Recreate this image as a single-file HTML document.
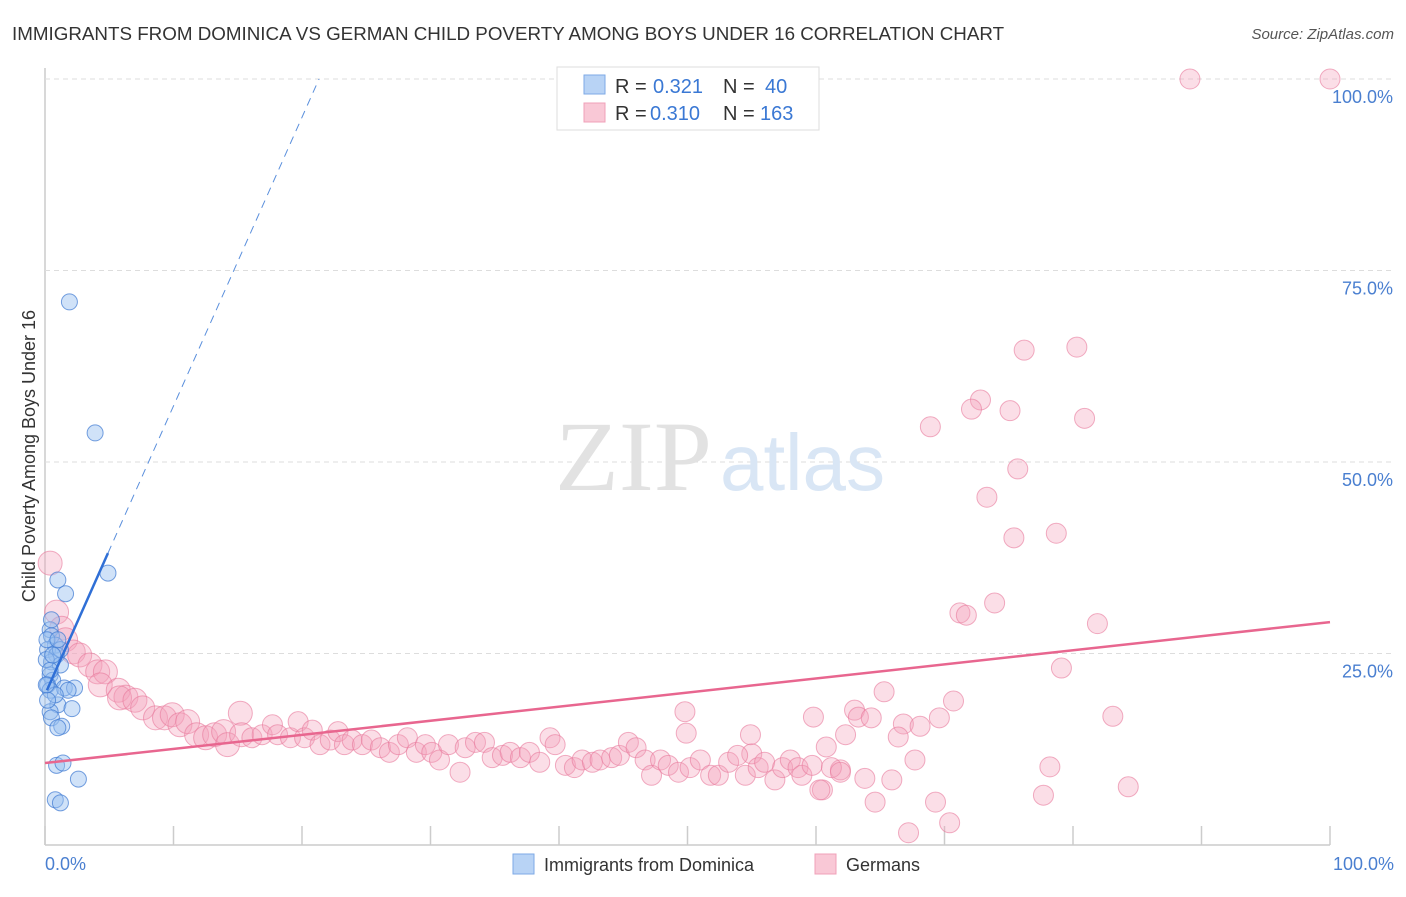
<!DOCTYPE html>
<html><head><meta charset="utf-8"><style>
body{margin:0;background:#fff;font-family:"Liberation Sans",sans-serif;}
svg text{font-family:"Liberation Sans",sans-serif;}
</style></head><body>
<svg id="c" width="1406" height="892" viewBox="0 0 1406 892">
<text x="12" y="40" font-size="18.8" fill="#333">IMMIGRANTS FROM DOMINICA VS GERMAN CHILD POVERTY AMONG BOYS UNDER 16 CORRELATION CHART</text>
<text x="1394" y="39" font-size="15" fill="#555" font-style="italic" text-anchor="end">Source: ZipAtlas.com</text>
<g id="grid"></g>
<text x="555" y="490" font-size="100" fill="#e2e2e2" textLength="157" lengthAdjust="spacingAndGlyphs" style="font-family:'Liberation Serif',serif">ZIP</text>
<text x="720" y="490" font-size="80" fill="#d9e6f5" textLength="165" lengthAdjust="spacingAndGlyphs">atlas</text>
<g id="pts"></g>
<g id="lines"></g>
<text x="35" y="456" font-size="18" fill="#333" text-anchor="middle" transform="rotate(-90 35 456)">Child Poverty Among Boys Under 16</text>
<text x="45" y="870" font-size="18" fill="#4a7fd0">0.0%</text>
<text x="1394" y="870" font-size="18" fill="#4a7fd0" text-anchor="end">100.0%</text>
<g>
<rect x="557" y="67" width="262" height="63" fill="#fff" stroke="#ddd"/>
<rect x="584" y="75" width="21" height="19" fill="#b8d3f5" stroke="#7eaae6"/>
<rect x="584" y="103" width="21" height="19" fill="#f9c8d6" stroke="#f0a0b8"/>
<text x="615" y="93" font-size="20" fill="#333">R =</text>
<text x="653" y="93" font-size="20" fill="#3a78d4">0.321</text>
<text x="723" y="93" font-size="20" fill="#333">N =</text>
<text x="765" y="93" font-size="20" fill="#3a78d4">40</text>
<text x="615" y="120" font-size="20" fill="#333">R =</text>
<text x="650" y="120" font-size="20" fill="#3a78d4">0.310</text>
<text x="723" y="120" font-size="20" fill="#333">N =</text>
<text x="760" y="120" font-size="20" fill="#3a78d4">163</text>
</g>
<rect x="513" y="854" width="21" height="20" fill="#b8d3f5" stroke="#7eaae6"/>
<text x="544" y="871" font-size="18" fill="#333">Immigrants from Dominica</text>
<rect x="815" y="854" width="21" height="20" fill="#f9c8d6" stroke="#f0a0b8"/>
<text x="846" y="871" font-size="18" fill="#333">Germans</text>
</svg>
<script>
const yTicks=[25,50,75,100];
const yTickLabels=["25.0%","50.0%","75.0%","100.0%"];
const xTicks=[0,10,20,30,40,50,60,70,80,90,100];
const blueX=[1.9,3.9,4.9,1.0,1.6,0.4,0.5,0.8,0.2,0.9,0.5,1.2,0.4,0.6,0.2,1.5,2.3,1.8,1.0,2.1,0.4,0.5,1.3,1.0,0.9,1.4,2.6,0.8,1.2,0.15,0.4,0.8,0.2,0.5,1.2,0.1,1.0,0.4,0.1,0.6];
const blueY=[70.9,53.8,35.5,34.6,32.8,28.1,27.3,26.1,25.5,24.8,23.9,23.5,22.2,21.5,20.9,20.5,20.5,20.2,18.3,17.8,17.4,16.6,15.5,15.3,10.4,10.7,8.6,5.9,5.5,26.8,20.2,19.6,18.9,29.4,25.5,24.2,26.8,22.8,20.9,24.8];
const pinkX=[89.1,100,76.2,80.3,72.8,72.1,75.1,80.9,68.9,75.7,73.3,75.4,78.7,71.2,71.7,73.9,81.9,79.1,65.3,70.7,69.6,63.0,63.3,64.3,59.8,49.8,66.8,68.1,83.1,66.4,60.8,62.3,67.7,78.2,77.7,84.3,64.6,69.3,67.2,70.4,65.9,63.8,60.5,61.9,49.9,54.9,55.0,
0.4,0.9,1.3,1.6,2.2,2.7,3.5,4.1,4.7,4.3,5.7,6.3,5.8,7.0,7.6,8.6,9.3,9.9,10.5,11.1,11.8,12.5,13.2,13.9,14.2,15.2,15.3,16.1,16.9,17.7,18.1,19.1,19.7,20.2,20.8,21.4,22.2,22.8,23.3,23.9,24.7,25.4,26.1,26.8,27.5,28.2,28.9,29.6,30.1,30.7,31.4,32.3,32.7,33.5,34.2,34.8,35.6,36.2,37.0,37.7,38.5,39.3,39.7,40.5,41.2,41.8,42.6,43.2,44.1,44.7,45.4,46.0,46.7,47.2,47.9,48.5,49.3,50.2,51.0,51.8,52.4,53.2,53.9,54.5,55.5,56.0,56.8,57.4,58.0,58.6,58.9,59.7,60.3,61.2,61.9];
const pinkY=[100,100,64.6,65.0,58.1,56.9,56.7,55.7,54.6,49.1,45.4,40.1,40.7,30.3,30.0,31.6,28.9,23.1,20.0,18.8,16.6,17.6,16.7,16.6,16.7,17.4,15.8,15.5,16.8,14.1,12.8,14.4,11.1,10.2,6.5,7.6,5.6,5.6,1.6,2.9,8.5,8.7,7.2,9.8,14.6,14.4,11.9,
36.8,30.4,28.3,26.8,25.2,24.8,23.5,22.6,22.6,20.9,20.2,19.3,19.2,18.9,17.9,16.6,16.6,17.0,15.7,16.1,14.4,14.0,14.4,14.8,13.1,17.2,14.4,14.0,14.4,15.7,14.4,14.0,16.1,14.0,15.0,13.1,13.7,14.8,13.1,13.7,13.1,13.7,12.7,12.1,13.1,14.0,12.1,13.1,12.1,11.1,13.1,9.5,12.7,13.4,13.4,11.4,11.7,12.1,11.4,12.1,10.8,14.0,13.1,10.4,10.1,11.1,10.8,11.1,11.4,11.7,13.4,12.7,11.1,9.1,11.1,10.4,9.5,10.1,11.1,9.1,9.1,10.8,11.7,9.1,10.1,10.8,8.5,10.1,11.1,10.1,9.1,10.4,7.2,10.1,9.5];
const blueTrend=[0.15,20.2,4.9,38.1];
const pinkTrend=[0,10.7,100,29.1];
const NS="http://www.w3.org/2000/svg";
const sx=v=>45+v*12.85, sy=v=>845-v*7.66;
function mk(t,a,p){const e=document.createElementNS(NS,t);for(const k in a)e.setAttribute(k,a[k]);p.appendChild(e);return e;}
const grid=document.getElementById('grid');
const ax=mk('line',{x1:45,y1:68,x2:45,y2:845,stroke:'#ccc','stroke-width':1.5},grid);


const bx=mk('line',{x1:45,y1:845,x2:1330,y2:845,stroke:'#ccc','stroke-width':1.5},grid);


yTicks.forEach((t,i)=>{
 const g=mk('line',{x1:45,y1:sy(t),x2:1394,y2:sy(t),stroke:'#ddd','stroke-dasharray':'5,4'},grid);
 
 
 const l=mk('text',{x:1393,y:sy(t)+24,'font-size':18,fill:'#4a7fd0','text-anchor':'end'},grid);
 l.textContent=yTickLabels[i];
 
 
});
xTicks.forEach(t=>{
 const k=mk('line',{x1:sx(t),y1:826,x2:sx(t),y2:845,stroke:'#ccc','stroke-width':1.5},grid);
 
 
});
const pts=document.getElementById('pts');
pinkX.forEach((x,i)=>{
 const r=x<16?12:10;
 const c=mk('circle',{cx:sx(x),cy:sy(pinkY[i]),r:r,fill:'rgba(244,160,185,0.35)',stroke:'rgba(232,120,155,0.6)','stroke-width':1},pts);
 
 
});
blueX.forEach((x,i)=>{
 const c=mk('circle',{cx:sx(x),cy:sy(blueY[i]),r:8,fill:'rgba(150,190,240,0.45)',stroke:'rgba(60,120,210,0.7)','stroke-width':1},pts);
 
 
});
const lines=document.getElementById('lines');
const slope=(blueTrend[3]-blueTrend[1])/(blueTrend[2]-blueTrend[0]);
const xEnd=blueTrend[2]+(100-blueTrend[3])/slope;
const bd=mk('line',{x1:sx(blueTrend[2]),y1:sy(blueTrend[3]),x2:sx(xEnd),y2:sy(100),stroke:'#5a8fdc','stroke-width':1,'stroke-dasharray':'8,6'},lines);


const bl=mk('line',{x1:sx(blueTrend[0]),y1:sy(blueTrend[1]),x2:sx(blueTrend[2]),y2:sy(blueTrend[3]),stroke:'#2f6fd6','stroke-width':2.5},lines);


const pl=mk('line',{x1:sx(pinkTrend[0]),y1:sy(pinkTrend[1]),x2:sx(pinkTrend[2]),y2:sy(pinkTrend[3]),stroke:'#e8668f','stroke-width':2.5},lines);


</script>
</body></html>
